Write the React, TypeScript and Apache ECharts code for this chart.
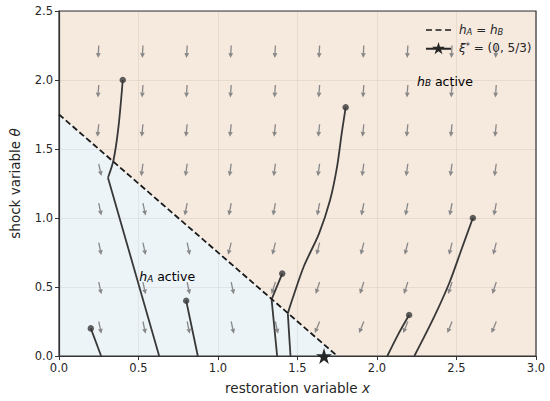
import React, { useEffect, useRef } from "react";
import * as echarts from "echarts";

// ---- data ----
const boundaryLine = [[0, 1.75], [1.75, 0]]; // h_A = h_B
const equilibrium = [[5 / 3, 0]]; // xi*
const regionA = [[0, 0], [0, 1.75], [1.75, 0]];
const regionB = [[0, 1.75], [0, 2.5], [3, 2.5], [3, 0], [1.75, 0]];
const regionColors = ["#edf4f8", "#f6e9de"];

const arrowX = [0.25, 0.528, 0.806, 1.083, 1.361, 1.639, 1.917, 2.194, 2.472, 2.75];
const arrowY = [0.25, 0.536, 0.821, 1.107, 1.393, 1.679, 1.964, 2.25];
// tilt from vertical in degrees (positive = leaning left), per row bottom -> top
const tiltB = [22, 18, 14, 11, 8, 6, 4, 3];
const tiltA = [-12, -12, -12, -12, -12, -12, -12, -12];

const traj1 = [[0.2, 0.2], [0.265, 0]];
const traj2a = [[0.401, 2.0], [0.374, 1.66], [0.343, 1.42], [0.308, 1.292]];
const traj2b = [[0.308, 1.292], [0.63, 0]];
const traj3 = [[0.8, 0.4], [0.873, 0]];
const traj4a = [[1.404, 0.597], [1.337, 0.41]];
const traj4b = [[1.337, 0.41], [1.372, 0]];
const traj5a = [[1.803, 1.802], [1.778, 1.613], [1.749, 1.372], [1.705, 1.13], [1.636, 0.889], [1.539, 0.647], [1.466, 0.406], [1.439, 0.309]];
const traj5b = [[1.439, 0.309], [1.456, 0]];
const traj6 = [[2.202, 0.297], [2.13, 0.15], [2.065, 0]];
const traj7 = [[2.603, 1.0], [2.53, 0.768], [2.454, 0.527], [2.36, 0.285], [2.235, 0]];

const smoothSegments = [traj2a, traj5a, traj6, traj7];
const straightSegments = [traj1, traj2b, traj3, traj4a, traj4b, traj5b];
const startPoints = [traj1[0], traj2a[0], traj3[0], traj4a[0], traj5a[0], traj6[0], traj7[0]];

const regionLabelPos = [[0.505, 0.575], [2.252, 1.99]];
const regionLabelSub = ["A", "B"];

const FONT = "DejaVu Sans";
const TXT = "#262626";

const STAR_PATH = "M50,0 L61,35 L98,35 L68,57 L79,91 L50,70 L21,91 L32,57 L2,35 L39,35 Z";
const DASH_ICON = "path://M0,62 L62,62 L62,80 L0,80 Z M99,62 L161,62 L161,80 L99,80 Z M198,62 L260,62 L260,80 L198,80 Z";
const STAR_ICON =
  "path://M0,60 L260,60 L260,80 L0,80 Z " +
  "M130,0 L145.6,48.5 L196.6,48.4 L155.3,78.2 L171.1,126.6 L130,96.6 L88.9,126.6 L104.7,78.2 L63.4,48.4 L114.4,48.5 Z";

const richBase = (size: number) => ({
  n: { fontSize: size, fontFamily: FONT, color: TXT },
  i: { fontSize: size, fontFamily: FONT, fontStyle: "italic", color: TXT },
  s: { fontSize: size * 0.7, fontFamily: FONT, fontStyle: "italic", color: TXT, verticalAlign: "bottom", lineHeight: size * 0.7 },
  p: { fontSize: size * 0.7, fontFamily: FONT, color: TXT, verticalAlign: "top", lineHeight: size * 0.7 },
});

export default function App() {
  const ref = useRef<HTMLDivElement>(null);
  useEffect(() => {
    document.body.style.margin = "0";
    const chart = echarts.init(ref.current!, null, { renderer: "svg" });

    const isB = (x: number, y: number) => {
      const [[x0, y0], [x1, y1]] = boundaryLine;
      const yl = y0 + ((y1 - y0) * (x - x0)) / (x1 - x0);
      return y > yl;
    };
    const arrows: number[][] = [];
    arrowY.forEach((y, r) => {
      arrowX.forEach((x) => {
        arrows.push([x, y, isB(x, y) ? tiltB[r] : tiltA[r]]);
      });
    });

    const trajStyle = { color: "#383838", width: 1.8 };
    const series: any[] = [
      {
        type: "custom",
        z: 0,
        silent: true,
        data: [[0], [1]],
        renderItem: (params: any, api: any) => {
          const poly = params.dataIndex === 0 ? regionA : regionB;
          return {
            type: "polygon",
            shape: { points: poly.map((p) => api.coord(p)) },
            style: { fill: regionColors[params.dataIndex] },
          };
        },
      },
      {
        type: "custom",
        z: 2,
        silent: true,
        data: arrows,
        encode: { x: 0, y: 1 },
        renderItem: (params: any, api: any) => {
          const p = api.coord([api.value(0), api.value(1)]);
          const t = (api.value(2) * Math.PI) / 180;
          const dx = -Math.sin(t);
          const dy = Math.cos(t);
          const L = 12.5, hl = 4.8, hw = 2.4;
          const tip = [p[0] + dx * L, p[1] + dy * L];
          const base = [tip[0] - dx * hl, tip[1] - dy * hl];
          const px = -dy, py = dx;
          return {
            type: "group",
            children: [
              { type: "line", shape: { x1: p[0], y1: p[1], x2: base[0], y2: base[1] }, style: { stroke: "#888", lineWidth: 1.3 } },
              {
                type: "polygon",
                shape: { points: [tip, [base[0] + px * hw, base[1] + py * hw], [base[0] - px * hw, base[1] - py * hw]] },
                style: { fill: "#888" },
              },
            ],
          };
        },
      },
      ...smoothSegments.map((d) => ({
        type: "line", z: 3, data: d, smooth: 0.3, symbol: "none", silent: true, lineStyle: trajStyle,
      })),
      ...straightSegments.map((d) => ({
        type: "line", z: 3, data: d, symbol: "none", silent: true, lineStyle: trajStyle,
      })),
      {
        type: "scatter", z: 4, data: startPoints, symbolSize: 6.5, silent: true,
        itemStyle: { color: "#383838" },
      },
      {
        name: "boundary", type: "line", z: 5, data: boundaryLine, symbol: "none", silent: true,
        lineStyle: { color: "#1a1a1a", width: 1.8, type: [6, 3] },
        itemStyle: { color: "#1a1a1a" },
      },
      {
        name: "xi", type: "line", z: 6, data: equilibrium, clip: false, silent: true,
        symbol: "path://" + STAR_PATH,
        symbolSize: 16, showSymbol: true,
        itemStyle: { color: "#262626" },
        lineStyle: { color: "#262626", width: 2 },
      },
      {
        type: "custom",
        z: 6,
        silent: true,
        data: regionLabelPos,
        encode: { x: 0, y: 1 },
        renderItem: (params: any, api: any) => {
          const p = api.coord([api.value(0), api.value(1)]);
          return {
            type: "text",
            x: p[0],
            y: p[1],
            style: {
              text: `{i|h}{s|${regionLabelSub[params.dataIndex]}}{n| active}`,
              rich: richBase(12.5),
              align: "left",
              verticalAlign: "middle",
            },
          };
        },
      },
    ];

    chart.setOption({
      animation: false,
      textStyle: { fontFamily: FONT },
      grid: { left: 55, right: 14, top: 11, bottom: 45, show: true, borderColor: "#333", borderWidth: 1.2, backgroundColor: "transparent", z: 1 },
      legend: {
        data: [
          { name: "boundary", icon: DASH_ICON, itemStyle: { color: "#1a1a1a" } },
          { name: "xi", icon: STAR_ICON, itemStyle: { color: "#262626" } },
        ],
        orient: "vertical",
        left: 421,
        top: 19,
        itemWidth: 25,
        itemHeight: 14,
        itemGap: 6,
        selectedMode: false,
        formatter: (name: string) =>
          name === "boundary" ? "{i|h}{s|A}{n| = }{i|h}{s|B}" : "{i|ξ}{p|*}{n| = (0, 5/3)}",
        textStyle: { rich: richBase(12), padding: [0, 0, 0, 3] },
      },
      xAxis: {
        type: "value",
        min: 0,
        max: 3,
        interval: 0.5,
        z: 1,
        name: "{n|restoration variable }{i|x}",
        nameLocation: "middle",
        nameGap: 25,
        nameTextStyle: { rich: richBase(13.5) },
        axisLine: { show: true, lineStyle: { color: "#333", width: 1.2 } },
        axisTick: { show: true, length: 4, lineStyle: { color: "#333" } },
        axisLabel: { color: TXT, fontSize: 11.5, fontFamily: FONT, margin: 6, formatter: (v: number) => v.toFixed(1) },
        splitLine: { show: true, lineStyle: { color: "rgba(0,0,0,0.06)", width: 1 } },
      },
      yAxis: {
        type: "value",
        min: 0,
        max: 2.5,
        interval: 0.5,
        z: 1,
        name: "{n|shock variable }{i|θ}",
        nameLocation: "middle",
        nameGap: 37,
        nameTextStyle: { rich: richBase(13.5) },
        axisLine: { show: true, lineStyle: { color: "#333", width: 1.2 } },
        axisTick: { show: true, length: 4, lineStyle: { color: "#333" } },
        axisLabel: { color: TXT, fontSize: 11.5, fontFamily: FONT, margin: 6, formatter: (v: number) => v.toFixed(1) },
        splitLine: { show: true, lineStyle: { color: "rgba(0,0,0,0.06)", width: 1 } },
      },
      series,
    });
    return () => chart.dispose();
  }, []);
  return <div ref={ref} style={{ width: 550, height: 401 }} />;
}
